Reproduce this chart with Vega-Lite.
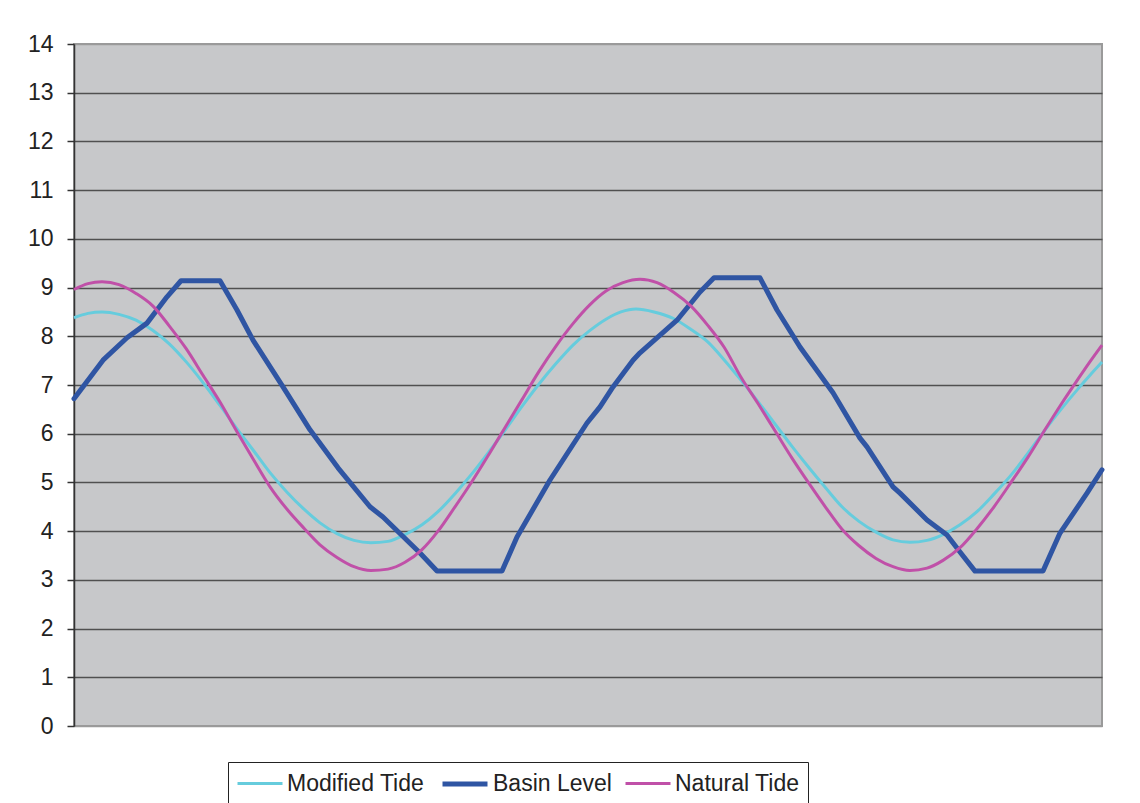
{
  "$schema": "https://vega.github.io/schema/vega-lite/v6.json",
  "width": 1028,
  "height": 682,
  "autosize": "none",
  "padding": {"left": 74, "top": 44, "right": 38, "bottom": 77},
  "background": "white",
  "config": {
    "view": {"fill": "#C7C8CA", "stroke": "#9A9A9A", "strokeWidth": 2},
    "font": "Liberation Sans",
    "legend": {
      "orient": "none",
      "legendX": 154,
      "legendY": 718,
      "direction": "horizontal",
      "symbolType": "M-2,0H2",
      "symbolSize": 506,
      "symbolOffset": 11,
      "labelFontSize": 23,
      "labelFont": "Liberation Sans",
      "labelColor": "#222222",
      "labelOffset": 14,
      "columnPadding": 7,
      "strokeColor": "#222222",
      "fillColor": "white",
      "padding": 8
    }
  },
  "datasets": {
    "natural": [
      {"t":0,"v":8.96},{"t":14,"v":9.08},{"t":28,"v":9.12},{"t":45,"v":9.06},{"t":62,"v":8.88},{"t":79,"v":8.62},{"t":95,"v":8.22},{"t":112,"v":7.75},{"t":129,"v":7.2},{"t":146,"v":6.65},{"t":163,"v":6.04},{"t":180,"v":5.45},{"t":196,"v":4.91},{"t":213,"v":4.45},{"t":230,"v":4.06},{"t":246,"v":3.72},{"t":263,"v":3.46},{"t":280,"v":3.27},{"t":297,"v":3.19},{"t":314,"v":3.22},{"t":331,"v":3.36},{"t":348,"v":3.62},{"t":364,"v":4.0},{"t":381,"v":4.5},{"t":398,"v":5.02},{"t":415,"v":5.58},{"t":432,"v":6.16},{"t":448,"v":6.7},{"t":465,"v":7.28},{"t":482,"v":7.8},{"t":499,"v":8.26},{"t":516,"v":8.65},{"t":532,"v":8.93},{"t":549,"v":9.1},{"t":566,"v":9.17},{"t":583,"v":9.1},{"t":600,"v":8.9},{"t":617,"v":8.62},{"t":634,"v":8.22},{"t":650,"v":7.78},{"t":667,"v":7.16},{"t":684,"v":6.62},{"t":701,"v":6.06},{"t":718,"v":5.5},{"t":735,"v":4.98},{"t":752,"v":4.48},{"t":768,"v":4.04},{"t":785,"v":3.7},{"t":802,"v":3.44},{"t":819,"v":3.27},{"t":836,"v":3.19},{"t":853,"v":3.24},{"t":869,"v":3.4},{"t":886,"v":3.66},{"t":903,"v":4.05},{"t":920,"v":4.5},{"t":937,"v":5.0},{"t":954,"v":5.52},{"t":970,"v":6.05},{"t":987,"v":6.6},{"t":1004,"v":7.12},{"t":1016,"v":7.48},{"t":1028,"v":7.82}
    ],
    "modified": [
      {"t":0,"v":8.38},{"t":14,"v":8.47},{"t":28,"v":8.5},{"t":45,"v":8.45},{"t":62,"v":8.33},{"t":79,"v":8.12},{"t":95,"v":7.85},{"t":112,"v":7.48},{"t":129,"v":7.05},{"t":146,"v":6.58},{"t":163,"v":6.1},{"t":180,"v":5.64},{"t":196,"v":5.2},{"t":213,"v":4.8},{"t":230,"v":4.45},{"t":246,"v":4.17},{"t":263,"v":3.95},{"t":280,"v":3.81},{"t":297,"v":3.76},{"t":314,"v":3.79},{"t":331,"v":3.93},{"t":348,"v":4.13},{"t":364,"v":4.4},{"t":381,"v":4.77},{"t":398,"v":5.18},{"t":415,"v":5.63},{"t":432,"v":6.1},{"t":448,"v":6.56},{"t":465,"v":7.02},{"t":482,"v":7.44},{"t":499,"v":7.82},{"t":516,"v":8.12},{"t":532,"v":8.35},{"t":547,"v":8.5},{"t":562,"v":8.56},{"t":580,"v":8.5},{"t":600,"v":8.36},{"t":617,"v":8.14},{"t":634,"v":7.88},{"t":650,"v":7.52},{"t":667,"v":7.1},{"t":684,"v":6.66},{"t":701,"v":6.2},{"t":718,"v":5.74},{"t":735,"v":5.3},{"t":752,"v":4.88},{"t":768,"v":4.5},{"t":785,"v":4.2},{"t":802,"v":3.98},{"t":819,"v":3.82},{"t":836,"v":3.77},{"t":853,"v":3.81},{"t":869,"v":3.93},{"t":886,"v":4.13},{"t":903,"v":4.4},{"t":920,"v":4.76},{"t":937,"v":5.15},{"t":954,"v":5.6},{"t":970,"v":6.05},{"t":987,"v":6.5},{"t":1004,"v":6.92},{"t":1016,"v":7.2},{"t":1028,"v":7.47}
    ],
    "basin": [
      {"t":0,"v":6.72},{"t":29,"v":7.51},{"t":53,"v":7.97},{"t":73,"v":8.27},{"t":93,"v":8.81},{"t":107,"v":9.14},{"t":146,"v":9.14},{"t":163,"v":8.54},{"t":179,"v":7.92},{"t":209,"v":6.96},{"t":236,"v":6.08},{"t":264,"v":5.3},{"t":296,"v":4.5},{"t":309,"v":4.29},{"t":346,"v":3.55},{"t":363,"v":3.18},{"t":428,"v":3.18},{"t":443,"v":3.88},{"t":476,"v":5.05},{"t":513,"v":6.22},{"t":526,"v":6.55},{"t":539,"v":6.96},{"t":559,"v":7.51},{"t":566,"v":7.66},{"t":603,"v":8.33},{"t":626,"v":8.91},{"t":640,"v":9.2},{"t":686,"v":9.2},{"t":703,"v":8.54},{"t":726,"v":7.78},{"t":759,"v":6.84},{"t":786,"v":5.91},{"t":793,"v":5.73},{"t":819,"v":4.91},{"t":826,"v":4.78},{"t":853,"v":4.23},{"t":873,"v":3.92},{"t":886,"v":3.57},{"t":901,"v":3.18},{"t":969,"v":3.18},{"t":986,"v":3.96},{"t":1013,"v":4.78},{"t":1028,"v":5.26}
    ]
  },
  "encoding": {
    "x": {"field": "t", "type": "quantitative", "scale": {"domain": [0, 1028], "nice": false, "zero": false}, "axis": null},
    "y": {
      "field": "v", "type": "quantitative",
      "scale": {"domain": [0, 14], "nice": false},
      "axis": {
        "title": null,
        "values": [0,1,2,3,4,5,6,7,8,9,10,11,12,13,14],
        "labelFontSize": 23,
        "labelFont": "Liberation Sans",
        "labelColor": "#222222",
        "labelPadding": 14,
        "tickSize": 7,
        "tickColor": "#333333",
        "tickWidth": 1.5,
        "domainColor": "#333333",
        "domainWidth": 1.5,
        "grid": true,
        "gridColor": {"condition": {"test": "datum.value === 0 || datum.value === 14", "value": "#9A9A9A"}, "value": "#505050"},
        "gridWidth": 1.5
      }
    },
    "color": {
      "field": "series", "type": "nominal",
      "scale": {"domain": ["Modified Tide", "Basin Level", "Natural Tide"], "range": ["#66CCDD", "#2F55A3", "#C050A8"]},
      "legend": {"title": null}
    },
    "strokeWidth": {
      "field": "series", "type": "nominal",
      "scale": {"type": "ordinal", "domain": ["Modified Tide", "Basin Level", "Natural Tide"], "range": [3, 5, 3]},
      "legend": {"title": null}
    }
  },
  "layer": [
    {
      "data": {"name": "modified"},
      "transform": [{"calculate": "'Modified Tide'", "as": "series"}],
      "mark": {"type": "line", "interpolate": "monotone"}
    },
    {
      "data": {"name": "basin"},
      "transform": [{"calculate": "'Basin Level'", "as": "series"}],
      "mark": {"type": "line", "strokeJoin": "round", "strokeCap": "round"}
    },
    {
      "data": {"name": "natural"},
      "transform": [{"calculate": "'Natural Tide'", "as": "series"}],
      "mark": {"type": "line", "interpolate": "monotone"}
    }
  ]
}
